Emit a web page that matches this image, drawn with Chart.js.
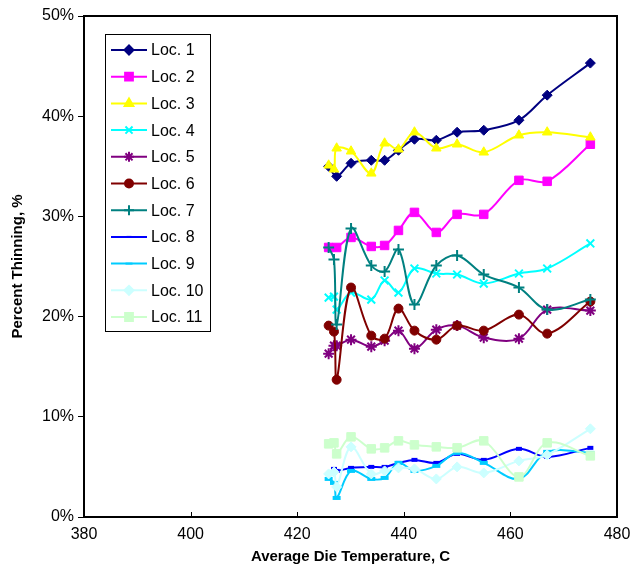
<!DOCTYPE html>
<html>
<head>
<meta charset="utf-8">
<script src="https://cdn.jsdelivr.net/npm/chart.js"></script>
<style>
  body { margin: 0; background: #fff; }
  #wrap { width: 635px; height: 572px; }
</style>
</head>
<body>
<div id="wrap"><canvas id="thinChart" width="635" height="572"></canvas></div>
<script>
// die temperature (C) for each measurement
const temps = [425.9, 426.9, 427.4, 430.1, 433.9, 436.4, 439.0, 442.0, 446.1, 450.0, 455.0, 461.6, 466.9, 475.0];

// percent thinning per location (null = no point at that temperature)
const loc1  = [35.0, null, 34.0, 35.3, 35.6, 35.6, 36.6, 37.7, 37.6, 38.4, 38.6, 39.6, 42.1, 45.3];
const loc2  = [26.9, null, 26.9, 27.9, 27.0, 27.1, 28.6, 30.4, 28.4, 30.2, 30.2, 33.6, 33.5, 37.2];
const loc3  = [35.1, 34.7, 36.8, 36.5, 34.3, 37.3, 36.7, 38.4, 36.8, 37.2, 36.4, 38.1, 38.4, 37.9];
const loc4  = [21.9, 22.0, 20.7, 22.4, 21.7, 23.6, 22.4, 24.8, 24.3, 24.2, 23.3, 24.3, 24.8, 27.3];
const loc5  = [16.3, 17.1, 17.1, 17.7, 17.0, 17.6, 18.6, 16.8, 18.7, 19.1, 17.9, 17.8, 20.7, 20.6];
const loc6  = [19.1, 18.5, 13.7, 22.9, 18.1, 17.8, 20.8, 18.6, 17.7, 19.1, 18.6, 20.2, 18.3, 21.5];
const loc7  = [26.9, 25.7, 19.2, 28.8, 25.1, 24.5, 26.7, 21.2, 25.1, 26.1, 24.2, 22.9, 20.7, 21.7];
const loc8  = [null, 4.8, 4.6, 4.9, 5.0, 5.0, 5.4, 5.7, 5.4, 6.3, 5.7, 6.8, 6.0, 6.9];
const loc9  = [3.8, 3.4, 1.9, 4.6, 3.8, 3.9, 5.4, 4.6, 5.1, 6.4, 5.4, 3.8, 6.5, 6.4];
const loc10 = [4.3, 4.5, 3.0, 7.0, 4.3, 4.6, 4.9, 4.8, 3.8, 5.0, 4.4, 5.6, 6.2, 8.8];
const loc11 = [7.3, 7.4, 6.3, 8.0, 6.8, 6.9, 7.6, 7.2, 7.0, 6.9, 7.6, 4.0, 7.4, 6.1];

const seriesNames = ['Loc. 1', 'Loc. 2', 'Loc. 3', 'Loc. 4', 'Loc. 5', 'Loc. 6', 'Loc. 7', 'Loc. 8', 'Loc. 9', 'Loc. 10', 'Loc. 11'];
const seriesValues = [loc1, loc2, loc3, loc4, loc5, loc6, loc7, loc8, loc9, loc10, loc11];
const xTicks = [380, 400, 420, 440, 460, 480];
const yTicks = [0, 10, 20, 30, 40, 50];

// excel style look for each series
const styles = [
    { color: '#000080', point: 'rectRot',  radius: 5,   bw: 1 },
    { color: '#FF00FF', point: 'rect',     radius: 6,   bw: 1 },
    { color: '#FFFF00', point: 'triangle', radius: 5.5, bw: 1 },
    { color: '#00FFFF', point: 'crossRot', radius: 5.5, bw: 2 },
    { color: '#800080', point: 'star',     radius: 5.5, bw: 2 },
    { color: '#800000', point: 'circle',   radius: 4.5, bw: 1 },
    { color: '#008080', point: 'cross',    radius: 5.5, bw: 2 },
    { color: '#0000FF', point: 'line',     radius: 3,   bw: 4 },
    { color: '#00CCFF', point: 'line',     radius: 4,   bw: 4 },
    { color: '#CCFFFF', point: 'rectRot',  radius: 5,   bw: 1 },
    { color: '#CCFFCC', point: 'rect',     radius: 6,   bw: 1 }
];

const datasets = seriesNames.map((name, i) => ({
    label: name,
    data: temps.map((t, j) => ({ x: t, y: seriesValues[i][j] })),
    borderColor: styles[i].color,
    backgroundColor: styles[i].color,
    borderWidth: 2,
    pointStyle: styles[i].point,
    pointRadius: styles[i].radius,
    pointBorderWidth: styles[i].bw,
    pointBorderColor: styles[i].color,
    pointBackgroundColor: styles[i].color,
    tension: 0.35,
    spanGaps: true,
    order: seriesNames.length - i
}));

// frame round the plot + inward x ticks
const framePlugin = {
    id: 'frame',
    afterDraw(chart) {
        const { ctx, chartArea: a, scales } = chart;
        ctx.save();
        ctx.strokeStyle = '#000';
        ctx.lineWidth = 1;
        xTicks.forEach(v => {
            const px = Math.round(scales.x.getPixelForValue(v)) + 0.5;
            ctx.beginPath();
            ctx.moveTo(px, a.bottom);
            ctx.lineTo(px, a.bottom - 5);
            ctx.stroke();
        });
        ctx.lineWidth = 2;
        ctx.strokeRect(a.left, a.top, a.right - a.left, a.bottom - a.top);
        ctx.restore();
    }
};

// legend box inside the plot, line + marker like excel
const boxLegend = {
    id: 'boxLegend',
    afterDraw(chart) {
        const ctx = chart.ctx;
        const left = 105, top = 34, w = 105, h = 297, step = 26.7;
        ctx.save();
        ctx.fillStyle = '#fff';
        ctx.fillRect(left, top, w, h);
        ctx.strokeStyle = '#000';
        ctx.lineWidth = 1;
        ctx.strokeRect(left + 0.5, top + 0.5, w, h);
        ctx.font = '16px "Liberation Sans", Arial, sans-serif';
        ctx.textBaseline = 'middle';
        seriesNames.forEach((name, i) => {
            const y = 50 + i * step;
            const s = styles[i];
            ctx.strokeStyle = s.color;
            ctx.lineWidth = 2;
            ctx.beginPath();
            ctx.moveTo(111, y);
            ctx.lineTo(147, y);
            ctx.stroke();
            ctx.fillStyle = s.color;
            ctx.strokeStyle = s.color;
            Chart.helpers.drawPoint(ctx, {
                pointStyle: s.point,
                radius: s.radius - 0.5,
                rotation: 0,
                borderWidth: s.bw
            }, 129, y);
            ctx.fillStyle = '#000';
            ctx.fillText(name, 151, y + 1);
        });
        ctx.restore();
    }
};

const thinCtx = document.getElementById('thinChart').getContext('2d');
const thinChart = new Chart(thinCtx, {
    type: 'line',
    data: { datasets: datasets },
    options: {
        responsive: false,
        animation: false,
        layout: { padding: { top: 16, right: 18, left: 0, bottom: 0 } },
        plugins: {
            legend: { display: false },
            tooltip: { enabled: false }
        },
        scales: {
            x: {
                type: 'linear',
                min: 380,
                max: 480,
                afterBuildTicks: scale => { scale.ticks = xTicks.map(v => ({ value: v })); },
                afterFit: scale => {
                    scale.height = 55;
                    scale.paddingLeft = 0;
                    scale.paddingRight = 0;
                },
                grid: { display: false, drawTicks: false },
                border: { display: false },
                ticks: {
                    padding: 8,
                    color: '#000',
                    maxRotation: 0,
                    font: { family: '"Liberation Sans", Arial, sans-serif', size: 16 }
                },
                title: {
                    display: true,
                    text: 'Average Die Temperature, C',
                    color: '#000',
                    padding: { top: 0, bottom: 6 },
                    font: { family: '"Liberation Sans", Arial, sans-serif', size: 15, weight: 'bold' }
                }
            },
            y: {
                min: 0,
                max: 50,
                afterBuildTicks: scale => { scale.ticks = yTicks.map(v => ({ value: v })); },
                afterFit: scale => { scale.width = 84; },
                grid: { drawOnChartArea: false, drawTicks: true, tickLength: 6, color: '#000', lineWidth: 1 },
                border: { display: false },
                ticks: {
                    padding: 4,
                    color: '#000',
                    callback: v => v + '%',
                    font: { family: '"Liberation Sans", Arial, sans-serif', size: 16 }
                },
                title: {
                    display: true,
                    text: 'Percent Thinning, %',
                    color: '#000',
                    padding: { top: 9, bottom: 0 },
                    font: { family: '"Liberation Sans", Arial, sans-serif', size: 15, weight: 'bold' }
                }
            }
        }
    },
    plugins: [framePlugin, boxLegend]
});
</script>
</body>
</html>
